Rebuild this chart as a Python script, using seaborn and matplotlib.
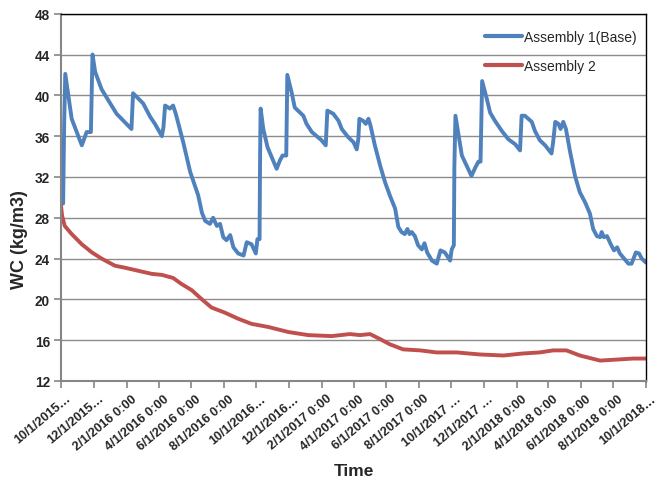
import matplotlib
matplotlib.use("Agg")
import matplotlib.pyplot as plt
import matplotlib.transforms as mtransforms
import numpy as np
import pandas as pd
import seaborn as sns

# Water content series, sampled as day offsets from the start date
start_date = "2015-10-01"

base_days = [0, 4, 6, 8, 20, 39, 48, 56, 59, 64, 76, 104, 117, 132, 135, 154, 167, 176,
             189, 192, 195, 204, 210, 215, 229, 242, 257, 264, 270, 279, 285, 292, 298,
             304, 310, 317, 323, 332, 342, 348, 357, 365, 368, 372, 373, 374, 379, 387,
             395, 404, 410, 415, 422, 424, 432, 438, 454, 460, 470, 479, 488, 496, 499,
             510, 520, 526, 538, 548, 554, 557, 559, 566, 571, 576, 580, 588, 598, 607,
             616, 626, 632, 638, 644, 649, 653, 657, 663, 669, 676, 681, 686, 695, 704,
             711, 719, 723, 729, 732, 736, 737, 739, 744, 751, 760, 769, 776, 782, 786,
             789, 798, 804, 813, 826, 838, 851, 860, 863, 869, 882, 888, 897, 907, 913,
             919, 922, 926, 932, 936, 941, 946, 954, 963, 972, 982, 991, 997, 1004, 1010,
             1013, 1017, 1023, 1030, 1036, 1042, 1047, 1055, 1063, 1069, 1077, 1083,
             1088, 1096]
base_wc = [29.5, 29.4, 37.5, 42.1, 37.7, 35.1, 36.4, 36.4, 44.0, 42.3, 40.6, 38.2, 37.5,
           36.7, 40.2, 39.2, 37.9, 37.2, 36.0, 36.9, 39.0, 38.7, 39.0, 38.2, 35.4, 32.5,
           30.2, 28.5, 27.7, 27.4, 28.0, 27.2, 27.4, 26.1, 25.8, 26.3, 25.1, 24.5, 24.3,
           25.6, 25.4, 24.5, 25.9, 25.9, 34.1, 38.7, 36.7, 34.9, 33.9, 32.8, 33.6, 34.1,
           34.1, 42.0, 40.3, 38.8, 38.0, 37.2, 36.4, 36.0, 35.6, 35.1, 38.5, 38.2, 37.5,
           36.7, 35.9, 35.4, 34.7, 35.7, 37.7, 37.5, 37.2, 37.7, 37.0, 35.1, 33.1, 31.5,
           30.2, 28.9, 27.1, 26.6, 26.4, 26.9, 26.4, 26.6, 26.2, 25.3, 24.9, 25.5, 24.6,
           23.8, 23.5, 24.8, 24.6, 24.3, 23.8, 24.9, 25.3, 33.1, 38.0, 36.4, 34.1, 33.1,
           32.1, 32.9, 33.5, 33.5, 41.4, 39.6, 38.3, 37.5, 36.5, 35.7, 35.2, 34.6, 38.0,
           38.0, 37.4, 36.5, 35.6, 35.1, 34.7, 34.3, 35.4, 37.4, 37.2, 36.7, 37.4, 36.7,
           34.4, 32.1, 30.5, 29.5, 28.4, 26.9, 26.2, 26.1, 26.6, 26.1, 26.2, 25.4, 24.8,
           25.1, 24.5, 24.0, 23.5, 23.5, 24.6, 24.5, 24.0, 23.6]

asm2_days = [0, 2, 7, 20, 39, 58, 76, 101, 120, 145, 170, 189, 210, 226, 245, 264, 282,
             307, 332, 357, 388, 426, 463, 507, 541, 560, 579, 598, 616, 641, 673, 704,
             741, 785, 829, 866, 897, 922, 947, 972, 1010, 1041, 1072, 1096]
asm2_wc = [29.2, 28.2, 27.2, 26.4, 25.4, 24.6, 24.0, 23.3, 23.1, 22.8, 22.5, 22.4, 22.1,
           21.5, 20.9, 20.0, 19.2, 18.7, 18.1, 17.6, 17.3, 16.8, 16.5, 16.4, 16.6, 16.5,
           16.6, 16.1, 15.6, 15.1, 15.0, 14.8, 14.8, 14.6, 14.5, 14.7, 14.8, 15.0, 15.0,
           14.5, 14.0, 14.1, 14.2, 14.2]

series_names = ["Assembly 1(Base)", "Assembly 2"]
series_colors = ["#4F81BD", "#C0504D"]

tick_dates = ["2015-10-01", "2015-12-01", "2016-02-01", "2016-04-01", "2016-06-01",
              "2016-08-01", "2016-10-01", "2016-12-01", "2017-02-01", "2017-04-01",
              "2017-06-01", "2017-08-01", "2017-10-01", "2017-12-01", "2018-02-01",
              "2018-04-01", "2018-06-01", "2018-08-01", "2018-10-01"]
tick_labels = ["10/1/2015…", "12/1/2015…", "2/1/2016 0:00", "4/1/2016 0:00",
               "6/1/2016 0:00", "8/1/2016 0:00", "10/1/2016…", "12/1/2016…",
               "2/1/2017 0:00", "4/1/2017 0:00", "6/1/2017 0:00", "8/1/2017 0:00",
               "10/1/2017 …", "12/1/2017 …", "2/1/2018 0:00", "4/1/2018 0:00",
               "6/1/2018 0:00", "8/1/2018 0:00", "10/1/2018…"]
y_ticks = [12, 16, 20, 24, 28, 32, 36, 40, 44, 48]

# Long-format table for seaborn
t0 = pd.Timestamp(start_date)
frames = []
for name, days, wc in [(series_names[0], base_days, base_wc),
                       (series_names[1], asm2_days, asm2_wc)]:
    frames.append(pd.DataFrame({
        "Time": t0 + pd.to_timedelta(days, unit="D"),
        "WC": wc,
        "Series": name,
    }))
df = pd.concat(frames, ignore_index=True)

sns.set_theme(style="white")
plt.rcParams["font.family"] = ["Liberation Sans", "DejaVu Sans"]

fig = plt.figure(figsize=(6.59, 4.85), dpi=100)
ax = fig.add_axes([61 / 659, 1 - 382 / 485, 585 / 659, (382 - 14.7) / 485])

sns.lineplot(data=df, x="Time", y="WC", hue="Series", hue_order=series_names,
             palette=series_colors, estimator=None, sort=False, linewidth=2.8,
             ax=ax)

ax.set_xlim(pd.Timestamp(tick_dates[0]), pd.Timestamp(tick_dates[-1]))
ax.set_ylim(y_ticks[0], y_ticks[-1])

ax.yaxis.grid(True, color="#8C8C8C", linewidth=1.0)
ax.xaxis.grid(False)
ax.set_axisbelow(True)

for side in ["left", "bottom"]:
    ax.spines[side].set_color("#868686")
    ax.spines[side].set_linewidth(1.5)
for side in ["top", "right"]:
    ax.spines[side].set_color("black")
    ax.spines[side].set_linewidth(1.0)

ax.tick_params(axis="x", direction="out", length=5, width=1.2, color="#868686",
               pad=3, bottom=True)
ax.tick_params(axis="y", direction="out", length=5, width=1.2, color="#868686",
               pad=3, left=True)

ax.set_yticks(y_ticks)
ax.set_yticklabels([str(v) for v in y_ticks], fontsize=9.8, fontweight="bold")
ax.set_xticks(pd.to_datetime(tick_dates))
ax.set_xticklabels(tick_labels, fontsize=9.2, fontweight="bold", rotation=40,
                   ha="right", va="top", rotation_mode="anchor")
# shift the slanted date labels so their ends sit just right of each tick
offset = mtransforms.ScaledTranslation(4.5 / 100, 0, fig.dpi_scale_trans)
for lbl in ax.get_xticklabels():
    lbl.set_transform(lbl.get_transform() + offset)

ax.set_xlabel("Time", fontsize=12.5, fontweight="bold")
ax.xaxis.set_label_coords(0.5, -0.222)
ax.set_ylabel("WC (kg/m3)", fontsize=13, fontweight="bold")
ax.yaxis.set_label_coords(-0.057, 0.389)

leg = ax.legend(loc="upper right", frameon=False, fontsize=10, handlelength=2.7,
                handletextpad=0.15, labelspacing=1.1, borderaxespad=0.6,
                bbox_to_anchor=(1 + 5 / 585, 1 - 2 / 367))
for line in leg.get_lines():
    line.set_linewidth(3)
leg.set_title(None)

fig.savefig("out.png", dpi=100)
